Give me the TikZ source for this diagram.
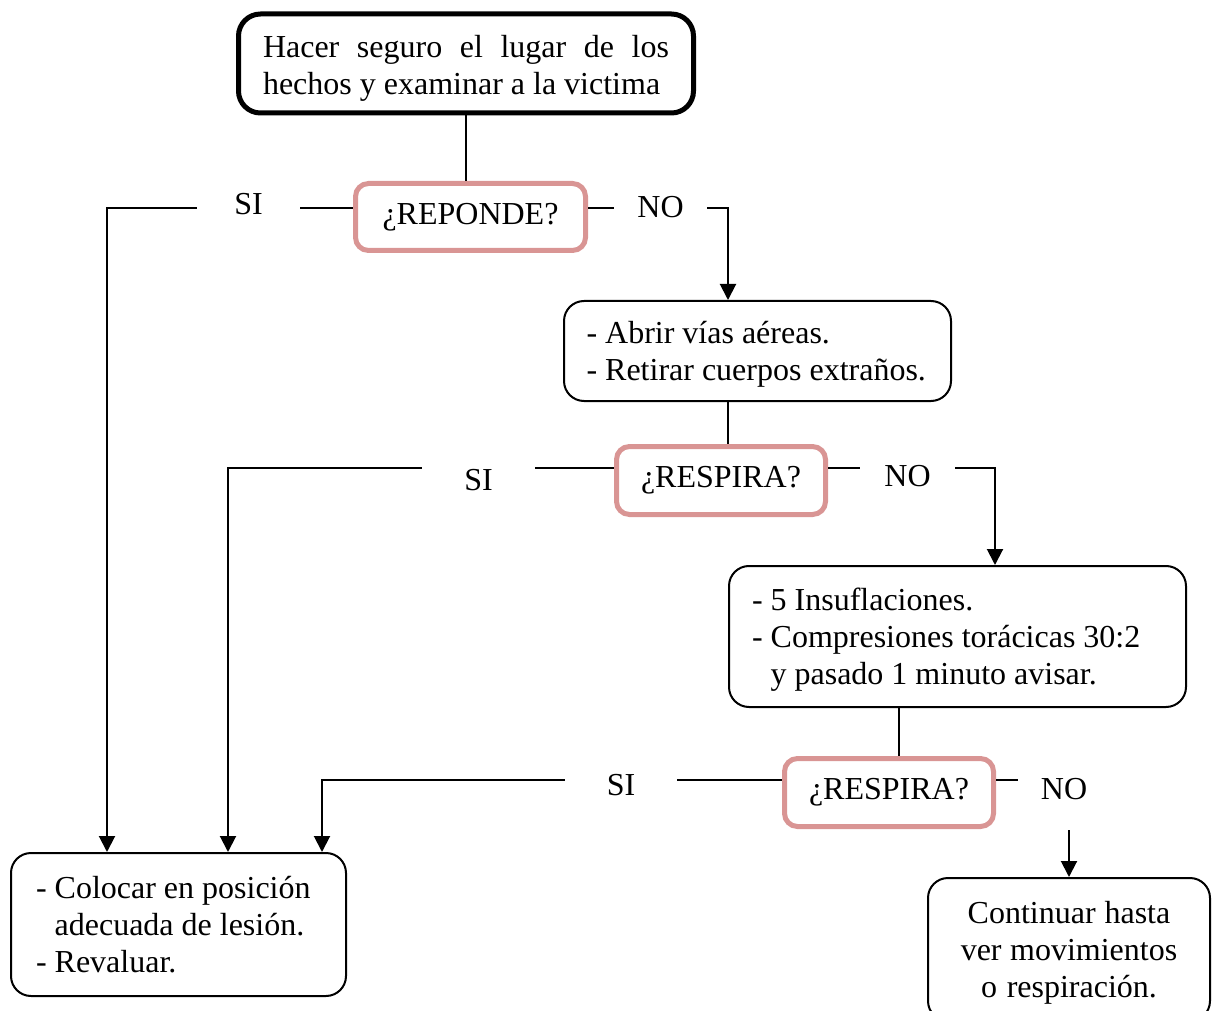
\documentclass[tikz,border=0pt]{standalone}
\usepackage{fontspec}
\setmainfont{Liberation Serif}
\usepackage{tikz}
\usetikzlibrary{arrows.meta, positioning}
\definecolor{rosa}{RGB}{217, 149, 148}
\hyphenpenalty=10000

\begin{document}
\begin{tikzpicture}[x=1pt, y=1pt, font=\fontsize{32}{37}\selectfont,
    caja/.style={draw, line width=2pt, rounded corners=20pt, align=left, inner ysep=0pt,
      execute at begin node={\spaceskip=0pt\relax}},
    pregunta/.style={draw=rosa, line width=5pt, rounded corners=13pt, minimum height=68pt},
    etiqueta/.style={inner sep=0pt},
    linea/.style={line width=2pt},
    flecha/.style={line width=2pt, -{Triangle[length=16pt, width=16pt]}}]
\useasboundingbox (0,0) rectangle (1219,-1011);
% Start box
\node[caja, line width=5pt, rounded corners=22pt, align=justify, text width=406pt, inner xsep=24.5pt, minimum height=99pt] (inicio) at (466,-63.5) {\rule{0pt}{32pt}Hacer seguro el lugar de los hechos y examinar a la victima};
% Questions
\node[pregunta, minimum width=230pt, minimum height=67pt] (reponde) at (470.5,-217) {¿REPONDE?};
\node[pregunta, minimum width=209pt] (respiraA) at (721,-480.5) {¿RESPIRA?};
\node[pregunta, minimum width=209pt] (respiraB) at (889,-792.5) {¿RESPIRA?};
% Action boxes
\node[caja, text width=342pt, inner xsep=22.5pt, minimum height=100pt] (abrir) at (757.5,-351) {\rule{0pt}{29pt}- Abrir vías aéreas.\\- Retirar cuerpos extraños.};
\node[caja, text width=411pt, inner xsep=23pt, minimum height=141pt] (insufla) at (957.5,-636.5) {\rule{0pt}{28pt}- 5 Insuflaciones.\\- Compresiones torácicas 30:2\\\hphantom{- }y pasado 1 minuto avisar.};
\node[caja, text width=285pt, inner xsep=25pt, minimum height=143pt] (colocar) at (178.5,-924.5) {- Colocar en posición\\\hphantom{- }adecuada de lesión.\\- Revaluar.};
\node[caja, align=center, text width=232pt, inner xsep=25pt, minimum height=143pt] (continuar) at (1069,-949.5) {\rule{0pt}{28pt}Continuar hasta\\ver movimientos\\o respiración.};
% SI / NO labels
\node[etiqueta, minimum width=103pt] (siA) at (248.5,-204) {SI};
\node[etiqueta, minimum width=93pt] (noA) at (660.5,-207) {NO};
\node[etiqueta, minimum width=113pt] (siB) at (478.5,-480) {SI};
\node[etiqueta, minimum width=95pt] (noB) at (907.5,-476) {NO};
\node[etiqueta, minimum width=112pt] (siC) at (621,-785) {SI};
\node[etiqueta, minimum width=92pt, minimum height=82pt] (noC) at (1064,-789) {NO};
% Start to first question
\draw[linea] (inicio.south) -- (inicio.south |- reponde.north);
% First question
\draw[linea] ([yshift=-4pt]siA.east) -- ([yshift=-4pt]siA.east -| reponde.west);
\draw[flecha] ([yshift=-4pt]siA.west) -| ([xshift=97pt]colocar.north west);
\draw[linea] ([yshift=-1pt]noA.west) -- ([yshift=-1pt]noA.west -| reponde.east);
\draw[flecha] ([yshift=-1pt]noA.east) -| ([xshift=165pt]abrir.north west);
% Second question
\draw[linea] ([xshift=165pt]abrir.south west) -- ([xshift=165pt]abrir.south west |- respiraA.north);
\draw[linea] ([yshift=12pt]siB.east) -- ([yshift=12pt]siB.east -| respiraA.west);
\draw[flecha] ([yshift=12pt]siB.west) -| ([xshift=218pt]colocar.north west);
\draw[linea] ([yshift=8pt]noB.west) -- ([yshift=8pt]noB.west -| respiraA.east);
\draw[flecha] ([yshift=8pt]noB.east) -| ([xshift=267pt]insufla.north west);
% Third question
\draw[linea] ([xshift=171pt]insufla.south west) -- ([xshift=171pt]insufla.south west |- respiraB.north);
\draw[linea] ([yshift=5pt]siC.east) -- ([yshift=5pt]siC.east -| respiraB.west);
\draw[flecha] ([yshift=5pt]siC.west) -| ([xshift=312pt]colocar.north west);
\draw[linea] ([yshift=9pt]noC.west) -- ([yshift=9pt]noC.west -| respiraB.east);
\draw[flecha] (noC.south -| continuar.north) -- (continuar.north);
\end{tikzpicture}
\end{document}
